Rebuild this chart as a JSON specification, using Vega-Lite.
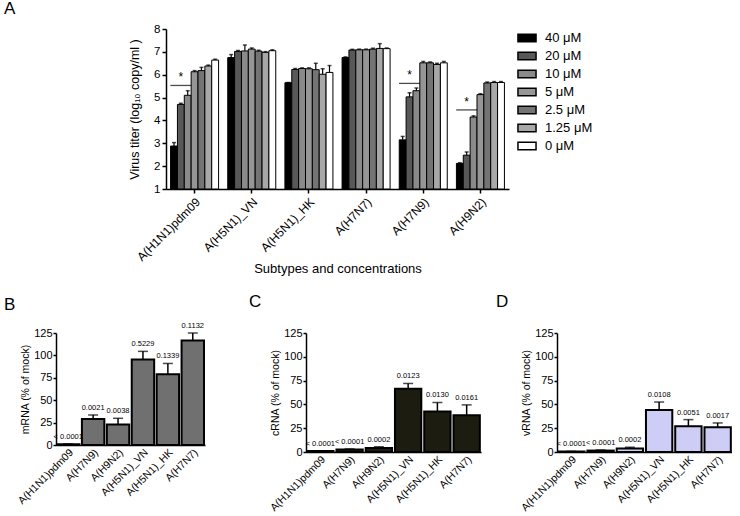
{
  "$schema": "https://vega.github.io/schema/vega-lite/v6.json",
  "padding": {"left": 4, "top": 0, "right": 0, "bottom": 0},
  "background": "white",
  "config": {
    "font": "Liberation Sans",
    "view": {"stroke": null},
    "axis": {"domainColor": "#000", "domainWidth": 1.5, "tickColor": "#000", "tickWidth": 1.5, "tickSize": 4, "labelColor": "#000", "titleColor": "#000", "labelFont": "Liberation Sans", "titleFont": "Liberation Sans", "titleFontWeight": "normal", "grid": false, "labelOverlap": false, "labelLimit": 300},
    "title": {"font": "Liberation Sans", "fontWeight": "normal", "fontSize": 17, "anchor": "start", "color": "#000", "frame": "group"},
    "text": {"font": "Liberation Sans", "color": "#000"}
  },
  "datasets": {
    "titer": [
      {"group": "A(H1N1)pdm09", "conc": "40 μM", "value": 2.88, "upper": 3.03},
      {"group": "A(H1N1)pdm09", "conc": "20 μM", "value": 4.70, "upper": 4.75},
      {"group": "A(H1N1)pdm09", "conc": "10 μM", "value": 5.10, "upper": 5.30},
      {"group": "A(H1N1)pdm09", "conc": "5 μM", "value": 6.13, "upper": 6.18},
      {"group": "A(H1N1)pdm09", "conc": "2.5 μM", "value": 6.18, "upper": 6.32},
      {"group": "A(H1N1)pdm09", "conc": "1.25 μM", "value": 6.38, "upper": 6.42},
      {"group": "A(H1N1)pdm09", "conc": "0 μM", "value": 6.64, "upper": 6.68},
      {"group": "A(H5N1)_VN", "conc": "40 μM", "value": 6.75, "upper": 6.88},
      {"group": "A(H5N1)_VN", "conc": "20 μM", "value": 7.02, "upper": 7.06},
      {"group": "A(H5N1)_VN", "conc": "10 μM", "value": 7.04, "upper": 7.30},
      {"group": "A(H5N1)_VN", "conc": "5 μM", "value": 7.12, "upper": 7.17},
      {"group": "A(H5N1)_VN", "conc": "2.5 μM", "value": 7.03, "upper": 7.07},
      {"group": "A(H5N1)_VN", "conc": "1.25 μM", "value": 6.98, "upper": 7.01},
      {"group": "A(H5N1)_VN", "conc": "0 μM", "value": 7.05, "upper": 7.09},
      {"group": "A(H5N1)_HK", "conc": "40 μM", "value": 5.65, "upper": 5.66},
      {"group": "A(H5N1)_HK", "conc": "20 μM", "value": 6.23, "upper": 6.27},
      {"group": "A(H5N1)_HK", "conc": "10 μM", "value": 6.27, "upper": 6.30},
      {"group": "A(H5N1)_HK", "conc": "5 μM", "value": 6.26, "upper": 6.30},
      {"group": "A(H5N1)_HK", "conc": "2.5 μM", "value": 6.22, "upper": 6.50},
      {"group": "A(H5N1)_HK", "conc": "1.25 μM", "value": 6.02, "upper": 6.26},
      {"group": "A(H5N1)_HK", "conc": "0 μM", "value": 6.10, "upper": 6.40},
      {"group": "A(H7N7)", "conc": "40 μM", "value": 6.75, "upper": 6.78},
      {"group": "A(H7N7)", "conc": "20 μM", "value": 7.08, "upper": 7.11},
      {"group": "A(H7N7)", "conc": "10 μM", "value": 7.09, "upper": 7.12},
      {"group": "A(H7N7)", "conc": "5 μM", "value": 7.09, "upper": 7.12},
      {"group": "A(H7N7)", "conc": "2.5 μM", "value": 7.12, "upper": 7.16},
      {"group": "A(H7N7)", "conc": "1.25 μM", "value": 7.15, "upper": 7.36},
      {"group": "A(H7N7)", "conc": "0 μM", "value": 7.14, "upper": 7.17},
      {"group": "A(H7N9)", "conc": "40 μM", "value": 3.15, "upper": 3.30},
      {"group": "A(H7N9)", "conc": "20 μM", "value": 5.03, "upper": 5.21},
      {"group": "A(H7N9)", "conc": "10 μM", "value": 5.30, "upper": 5.42},
      {"group": "A(H7N9)", "conc": "5 μM", "value": 6.52, "upper": 6.58},
      {"group": "A(H7N9)", "conc": "2.5 μM", "value": 6.52, "upper": 6.56},
      {"group": "A(H7N9)", "conc": "1.25 μM", "value": 6.45, "upper": 6.50},
      {"group": "A(H7N9)", "conc": "0 μM", "value": 6.52, "upper": 6.58},
      {"group": "A(H9N2)", "conc": "40 μM", "value": 2.12, "upper": 2.15},
      {"group": "A(H9N2)", "conc": "20 μM", "value": 2.48, "upper": 2.62},
      {"group": "A(H9N2)", "conc": "10 μM", "value": 4.15, "upper": 4.20},
      {"group": "A(H9N2)", "conc": "5 μM", "value": 5.13, "upper": 5.17},
      {"group": "A(H9N2)", "conc": "2.5 μM", "value": 5.64, "upper": 5.68},
      {"group": "A(H9N2)", "conc": "1.25 μM", "value": 5.66, "upper": 5.70},
      {"group": "A(H9N2)", "conc": "0 μM", "value": 5.66, "upper": 5.70}
    ],
    "sigA": [
      {"group": "A(H1N1)pdm09", "conc": "20 μM", "y": 5.53},
      {"group": "A(H7N9)", "conc": "20 μM", "y": 5.62},
      {"group": "A(H9N2)", "conc": "20 μM", "y": 4.46}
    ],
    "mrna": [
      {"strain": "A(H1N1)pdm09", "value": 0.8, "upper": 1.2, "p": "< 0.0001"},
      {"strain": "A(H7N9)", "value": 29, "upper": 33.5, "p": "0.0021"},
      {"strain": "A(H9N2)", "value": 23, "upper": 29.8, "p": "0.0038"},
      {"strain": "A(H5N1)_VN", "value": 95.5, "upper": 104.5, "p": "0.5229"},
      {"strain": "A(H5N1)_HK", "value": 79, "upper": 91, "p": "0.1339"},
      {"strain": "A(H7N7)", "value": 116.5, "upper": 125, "p": "0.1132"}
    ],
    "crna": [
      {"strain": "A(H1N1)pdm09", "value": 1.0, "upper": 1.3, "p": "< 0.0001"},
      {"strain": "A(H7N9)", "value": 2.5, "upper": 3.2, "p": "< 0.0001"},
      {"strain": "A(H9N2)", "value": 4.3, "upper": 5.5, "p": "0.0002"},
      {"strain": "A(H5N1)_VN", "value": 66.5, "upper": 72, "p": "0.0123"},
      {"strain": "A(H5N1)_HK", "value": 42.5, "upper": 52, "p": "0.0130"},
      {"strain": "A(H7N7)", "value": 38.5, "upper": 49.5, "p": "0.0161"}
    ],
    "vrna": [
      {"strain": "A(H1N1)pdm09", "value": 0.5, "upper": 0.7, "p": "< 0.0001"},
      {"strain": "A(H7N9)", "value": 1.5, "upper": 2.1, "p": "< 0.0001"},
      {"strain": "A(H9N2)", "value": 3.8, "upper": 5.0, "p": "0.0002"},
      {"strain": "A(H5N1)_VN", "value": 44, "upper": 52.5, "p": "0.0108"},
      {"strain": "A(H5N1)_HK", "value": 27, "upper": 34, "p": "0.0051"},
      {"strain": "A(H7N7)", "value": 26, "upper": 30.5, "p": "0.0017"}
    ]
  },
  "bounds": "flush",
  "spacing": 304,
  "resolve": {"scale": {"fill": "independent"}, "legend": {"fill": "independent"}},
  "vconcat": [
    {
      "bounds": "flush",
      "spacing": 0,
      "resolve": {"scale": {"fill": "independent"}, "legend": {"fill": "independent"}},
      "hconcat": [
        {
          "width": 110,
          "height": 10,
          "data": {"values": [{"blank": ""}]},
          "mark": {"type": "text", "text": ""}
        },
        {
          "title": {"text": "A", "dx": -162, "offset": 5},
          "width": 343,
          "height": 160,
          "encoding": {
            "x": {"field": "group", "type": "nominal", "scale": {"domain": ["A(H1N1)pdm09", "A(H5N1)_VN", "A(H5N1)_HK", "A(H7N7)", "A(H7N9)", "A(H9N2)"], "paddingInner": 0.16, "paddingOuter": 0.08}, "axis": {"labelAngle": -45, "labelFontSize": 12, "labelPadding": 3, "title": "Subtypes and concentrations", "titleFontSize": 13, "titlePadding": 0}},
            "xOffset": {"field": "conc", "type": "nominal", "scale": {"domain": ["40 μM", "20 μM", "10 μM", "5 μM", "2.5 μM", "1.25 μM", "0 μM"], "paddingInner": 0, "paddingOuter": 0}}
          },
          "layer": [
            {
              "data": {"name": "titer"},
              "mark": {"type": "bar", "stroke": "#000", "strokeWidth": 1},
              "encoding": {
                "y": {"field": "value", "type": "quantitative", "scale": {"domain": [1, 8], "nice": false, "zero": false}, "axis": {"values": [1, 2, 3, 4, 5, 6, 7, 8], "tickCount": 8, "labelOverlap": false, "labelFontSize": 11.5, "title": "Virus titer (log₁₀ copy/ml )", "titleFontSize": 12.5, "titlePadding": 12}},
                "y2": {"datum": 1},
                "fill": {"field": "conc", "type": "nominal", "scale": {"domain": ["40 μM", "20 μM", "10 μM", "5 μM", "2.5 μM", "1.25 μM", "0 μM"], "range": ["#000000", "#585858", "#8a8a8a", "#969696", "#747474", "#a8a8a8", "#ffffff"]}, "legend": {"title": null, "orient": "right", "offset": 9, "symbolType": "M-1.1,-0.45H1.1V0.45H-1.1Z", "symbolSize": 270, "symbolStrokeColor": "#000", "symbolStrokeWidth": 1.5, "labelFontSize": 13, "labelColor": "#000", "labelOffset": 9, "rowPadding": 2}}
              }
            },
            {
              "data": {"name": "titer"},
              "mark": {"type": "rule", "color": "#000", "strokeWidth": 1.2},
              "encoding": {"y": {"field": "value", "type": "quantitative", "axis": {"values": [1, 2, 3, 4, 5, 6, 7, 8], "tickCount": 8, "labelOverlap": false, "labelFontSize": 11.5, "title": "Virus titer (log₁₀ copy/ml )", "titleFontSize": 12.5, "titlePadding": 12}}, "y2": {"field": "upper"}}
            },
            {
              "data": {"name": "titer"},
              "mark": {"type": "tick", "color": "#000", "size": 4, "thickness": 1.5, "orient": "horizontal"},
              "encoding": {"y": {"field": "upper", "type": "quantitative", "axis": {"values": [1, 2, 3, 4, 5, 6, 7, 8], "tickCount": 8, "labelOverlap": false, "labelFontSize": 11.5, "title": "Virus titer (log₁₀ copy/ml )", "titleFontSize": 12.5, "titlePadding": 12}}}
            },
            {
              "data": {"name": "sigA"},
              "mark": {"type": "tick", "color": "#000", "size": 21, "thickness": 1.3, "orient": "horizontal"},
              "encoding": {"y": {"field": "y", "type": "quantitative", "axis": {"values": [1, 2, 3, 4, 5, 6, 7, 8], "tickCount": 8, "labelOverlap": false, "labelFontSize": 11.5, "title": "Virus titer (log₁₀ copy/ml )", "titleFontSize": 12.5, "titlePadding": 12}}}
            },
            {
              "data": {"name": "sigA"},
              "mark": {"type": "text", "text": "*", "fontSize": 12, "baseline": "bottom", "dy": -1},
              "encoding": {"y": {"field": "y", "type": "quantitative", "axis": {"values": [1, 2, 3, 4, 5, 6, 7, 8], "tickCount": 8, "labelOverlap": false, "labelFontSize": 11.5, "title": "Virus titer (log₁₀ copy/ml )", "titleFontSize": 12.5, "titlePadding": 12}}}
            }
          ]
        }
      ]
    },
    {
      "bounds": "flush",
      "spacing": 101,
      "hconcat": [
        {
          "title": {"text": "B", "dx": -52, "offset": 8},
          "width": 149,
          "height": 112,
          "data": {"name": "mrna"},
          "encoding": {
            "x": {"field": "strain", "type": "nominal", "sort": null, "scale": {"paddingInner": 0.1, "paddingOuter": 0.04}, "axis": {"labelAngle": -45, "labelFontSize": 10.5, "title": null, "ticks": false, "labelPadding": 2}},
            "y": {"field": "value", "type": "quantitative", "scale": {"domain": [0, 125], "nice": false}, "axis": {"values": [0, 25, 50, 75, 100, 125], "labelOverlap": false, "title": "mRNA (% of mock)", "titleFontSize": 10.5, "labelFontSize": 11, "titlePadding": 3, "labelPadding": 1, "tickSize": 3}}
          },
          "layer": [
            {"mark": {"type": "bar", "fill": "#707070", "stroke": "#000", "strokeWidth": 2}},
            {"mark": {"type": "rule", "color": "#000", "strokeWidth": 1.5}, "encoding": {"y2": {"field": "upper"}}},
            {"mark": {"type": "tick", "color": "#000", "size": 10, "thickness": 1.5, "orient": "horizontal"}, "encoding": {"y": {"field": "upper", "type": "quantitative", "axis": {"values": [0, 25, 50, 75, 100, 125], "labelOverlap": false, "title": "mRNA (% of mock)", "titleFontSize": 10.5, "labelFontSize": 11, "titlePadding": 3, "labelPadding": 1, "tickSize": 3}}}},
            {"mark": {"type": "text", "fontSize": 7.5, "dy": -7}, "encoding": {"y": {"field": "upper", "type": "quantitative", "axis": {"values": [0, 25, 50, 75, 100, 125], "labelOverlap": false, "title": "mRNA (% of mock)", "titleFontSize": 10.5, "labelFontSize": 11, "titlePadding": 3, "labelPadding": 1, "tickSize": 3}}, "text": {"field": "p"}}}
          ]
        },
        {
          "bounds": "flush",
          "spacing": 76,
          "hconcat": [
            {
              "title": {"text": "C", "dx": -57, "offset": 16},
              "width": 175,
              "height": 119,
              "data": {"name": "crna"},
              "encoding": {
                "x": {"field": "strain", "type": "nominal", "sort": null, "scale": {"paddingInner": 0.1, "paddingOuter": 0.04}, "axis": {"labelAngle": -45, "labelFontSize": 10.5, "title": null, "ticks": false, "labelPadding": 2}},
                "y": {"field": "value", "type": "quantitative", "scale": {"domain": [0, 125], "nice": false}, "axis": {"values": [0, 25, 50, 75, 100, 125], "labelOverlap": false, "title": "cRNA (% of mock)", "titleFontSize": 10.5, "labelFontSize": 11, "titlePadding": 3, "labelPadding": 1, "tickSize": 3}}
              },
              "layer": [
                {"mark": {"type": "bar", "fill": "#1c1c10", "stroke": "#000", "strokeWidth": 2}},
                {"mark": {"type": "rule", "color": "#000", "strokeWidth": 1.5}, "encoding": {"y2": {"field": "upper"}}},
                {"mark": {"type": "tick", "color": "#000", "size": 10, "thickness": 1.5, "orient": "horizontal"}, "encoding": {"y": {"field": "upper", "type": "quantitative", "axis": {"values": [0, 25, 50, 75, 100, 125], "labelOverlap": false, "title": "cRNA (% of mock)", "titleFontSize": 10.5, "labelFontSize": 11, "titlePadding": 3, "labelPadding": 1, "tickSize": 3}}}},
                {"mark": {"type": "text", "fontSize": 7.5, "dy": -7}, "encoding": {"y": {"field": "upper", "type": "quantitative", "axis": {"values": [0, 25, 50, 75, 100, 125], "labelOverlap": false, "title": "cRNA (% of mock)", "titleFontSize": 10.5, "labelFontSize": 11, "titlePadding": 3, "labelPadding": 1, "tickSize": 3}}, "text": {"field": "p"}}}
              ]
            },
            {
              "title": {"text": "D", "dx": -61, "offset": 16},
              "width": 175,
              "height": 119,
              "data": {"name": "vrna"},
              "encoding": {
                "x": {"field": "strain", "type": "nominal", "sort": null, "scale": {"paddingInner": 0.1, "paddingOuter": 0.04}, "axis": {"labelAngle": -45, "labelFontSize": 10.5, "title": null, "ticks": false, "labelPadding": 2}},
                "y": {"field": "value", "type": "quantitative", "scale": {"domain": [0, 125], "nice": false}, "axis": {"values": [0, 25, 50, 75, 100, 125], "labelOverlap": false, "title": "vRNA (% of mock)", "titleFontSize": 10.5, "labelFontSize": 11, "titlePadding": 3, "labelPadding": 1, "tickSize": 3}}
              },
              "layer": [
                {"mark": {"type": "bar", "fill": "#cdcdf6", "stroke": "#000", "strokeWidth": 2}},
                {"mark": {"type": "rule", "color": "#000", "strokeWidth": 1.5}, "encoding": {"y2": {"field": "upper"}}},
                {"mark": {"type": "tick", "color": "#000", "size": 10, "thickness": 1.5, "orient": "horizontal"}, "encoding": {"y": {"field": "upper", "type": "quantitative", "axis": {"values": [0, 25, 50, 75, 100, 125], "labelOverlap": false, "title": "vRNA (% of mock)", "titleFontSize": 10.5, "labelFontSize": 11, "titlePadding": 3, "labelPadding": 1, "tickSize": 3}}}},
                {"mark": {"type": "text", "fontSize": 7.5, "dy": -7}, "encoding": {"y": {"field": "upper", "type": "quantitative", "axis": {"values": [0, 25, 50, 75, 100, 125], "labelOverlap": false, "title": "vRNA (% of mock)", "titleFontSize": 10.5, "labelFontSize": 11, "titlePadding": 3, "labelPadding": 1, "tickSize": 3}}, "text": {"field": "p"}}}
              ]
            }
          ]
        }
      ]
    }
  ]
}
